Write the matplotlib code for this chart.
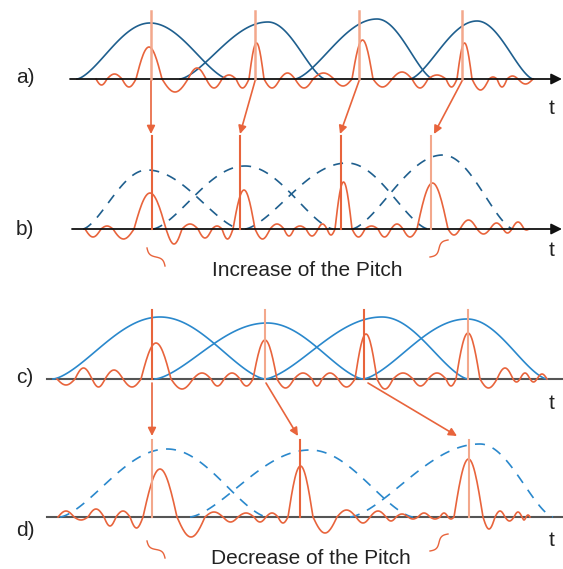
import numpy as np
import matplotlib
matplotlib.use("Agg")
import matplotlib.pyplot as plt

plt.rcParams['font.family'] = ['Liberation Sans', 'DejaVu Sans']

# colours
ORANGE = "#e8643c"
SALMON = "#f3a88c"
DARKBLUE = "#1f5f8e"
LIGHTBLUE = "#2a88cc"

# baselines of the four rows (image pixel units)
base = {"a": 79, "b": 229, "c": 379, "d": 517}

# red signal: zero crossings and lobe amplitudes
zc_a = [96, 107, 122, 136, 162, 188, 206, 222, 236, 249, 264, 280, 295, 313, 334, 352, 373, 392,
        412, 428, 446, 457, 472, 489, 497, 507, 518, 533]
amp_a = [-6, 5, -8, 32, -13, 11, -9, 4, -9, 36, -9, 6, -9, 6, -7, 39, -8, 7, -9, 4, -8, 36, -11,
         2, -8, 3, -5]
zc_b = [85, 101, 113, 134, 166, 182, 198, 212, 222, 233, 255, 270, 284, 294, 306, 318, 327, 335,
        352, 365, 378, 391, 403, 417, 448, 460, 477, 490, 503, 512, 524, 529]
amp_b = [-8, 3, -10, 36, -15, 5, -9, 3, -10, 39, -10, 5, -7, 3, -7, 5, -6, 47, -8, 3, -8, 5, -8,
         46, -6, 9, -5, 6, -4, 7, -1]
zc_c = [57, 75, 92, 105, 123, 141, 171, 193, 211, 224, 240, 253, 277, 294, 312, 322, 338, 355,
        377, 393, 413, 428, 446, 456, 480, 497, 513, 520, 530, 537, 547]
amp_c = [-6, 11, -8, 9, -8, 36, -10, 6, -7, 6, -7, 39, -9, 6, -7, 6, -8, 45, -10, 6, -7, 6, -7,
         46, -9, 11, -3, 6, -3, 5]
zc_d = [58, 74, 88, 104, 116, 130, 143, 177, 205, 223, 238, 254, 266, 278, 288, 313, 337, 356,
        370, 386, 396, 408, 418, 430, 440, 448, 454, 483, 495, 505, 514, 522, 526, 530]
amp_d = [6, -3, 8, -9, 6, -11, 48, -20, 5, -5, 4, -5, 4, -6, 51, -16, 7, -6, 6, -4, 3, -2, 4, -2,
         4, -2, 58, -12, 6, -4, 5, -3, 2]

# analysis / synthesis windows: start, peak position, end, height
win_a = dict(start=[77, 180, 295, 410], peak=[150, 268, 377, 477], end=[228, 325, 433, 533], h=[56, 57, 60, 58])
win_b = dict(start=[83, 153, 245, 352], peak=[147, 245, 347, 443], end=[240, 333, 428, 513], h=[59, 63, 66, 74])
win_c = dict(start=[53, 155, 265, 363], peak=[160, 267, 382, 467], end=[265, 363, 468, 547], h=[62, 56, 62, 60])
win_d = dict(start=[60, 190, 350], peak=[167, 310, 480], end=[267, 413, 553], h=[68, 67, 73])

# pitch marks
marks_a = [151, 255, 359, 462]
marks_b = [152, 240, 341, 431]
marks_c = [152, 265, 364, 468]
marks_d = [152, 300, 469]
col_b = [ORANGE, ORANGE, ORANGE, SALMON]
col_c = [ORANGE, SALMON, ORANGE, SALMON]
col_d = [SALMON, ORANGE, SALMON]
arrow_ab_end = [151, 240, 340, 434]
arrow_cd_start = [152, 266, 368]
arrow_cd_end = [152, 298, 457]


def draw_wave(ax, zc, amp, y0):
    xs, ys = [], []
    for i in range(len(amp)):
        x = np.linspace(zc[i], zc[i + 1], 30)
        xs.append(x)
        ys.append(y0 - amp[i] * np.sin(np.pi * (x - zc[i]) / (zc[i + 1] - zc[i])))
    ax.plot(np.concatenate(xs), np.concatenate(ys), color=ORANGE, lw=1.2, zorder=3)


def draw_windows(ax, w, y0, color, ls):
    for s, p, e, h in zip(w["start"], w["peak"], w["end"], w["h"]):
        xl = np.linspace(s, p, 60)
        yl = ((1 - np.cos(np.pi * (xl - s) / (p - s))) / 2) ** 0.75
        xr = np.linspace(p, e, 60)
        yr = ((1 + np.cos(np.pi * (xr - p) / (e - p))) / 2) ** 0.75
        ax.plot(np.concatenate([xl, xr]), y0 - h * np.concatenate([yl, yr]),
                color=color, lw=1.2, ls=ls, zorder=2)


def arrow(ax, x0, y0, x1, y1, color, ms=12, lw=1.2):
    ax.annotate("", xy=(x1, y1), xytext=(x0, y0),
                arrowprops=dict(arrowstyle="-|>", color=color, lw=lw, mutation_scale=ms,
                                shrinkA=0, shrinkB=0), zorder=4)


def squiggle(ax, x0, y0, x1, y1):
    t = np.linspace(0, 1, 40)
    dx, dy = x1 - x0, y1 - y0
    L = np.hypot(dx, dy)
    nx, ny = -dy / L, dx / L
    off = 2.5 * np.sin(2 * np.pi * t)
    ax.plot(x0 + dx * t + nx * off, y0 + dy * t + ny * off, color=ORANGE, lw=1.0)


fig = plt.figure(figsize=(5.63, 5.69), dpi=100)
ax = fig.add_axes([0, 0, 1, 1])
ax.set_xlim(0, 563)
ax.set_ylim(569, 0)
ax.axis("off")

# time axes
arrow(ax, 70, base["a"], 562, base["a"], "#111111", ms=16, lw=1.3)
arrow(ax, 72, base["b"], 562, base["b"], "#111111", ms=16, lw=1.3)
ax.plot([47, 563], [base["c"], base["c"]], color="#555555", lw=1.5)
ax.plot([47, 563], [base["d"], base["d"]], color="#555555", lw=1.5)

# windows
draw_windows(ax, win_a, base["a"], DARKBLUE, "-")
draw_windows(ax, win_b, base["b"], DARKBLUE, (0, (6, 5)))
draw_windows(ax, win_c, base["c"], LIGHTBLUE, "-")
draw_windows(ax, win_d, base["d"], LIGHTBLUE, (0, (6, 5)))

# signals
draw_wave(ax, zc_a, amp_a, base["a"])
draw_wave(ax, zc_b, amp_b, base["b"])
draw_wave(ax, zc_c, amp_c, base["c"])
draw_wave(ax, zc_d, amp_d, base["d"])

# pitch marks and mapping arrows
for x in marks_a:
    ax.plot([x, x], [11, base["a"]], color=SALMON, lw=1.8, zorder=4)
for x0, x1 in zip(marks_a, arrow_ab_end):
    arrow(ax, x0, base["a"] + 2, x1, 134, ORANGE)
for x, c in zip(marks_b, col_b):
    ax.plot([x, x], [136, base["b"]], color=c, lw=1.5, zorder=4)

for x, c in zip(marks_c, col_c):
    ax.plot([x, x], [310, base["c"]], color=c, lw=1.5, zorder=4)
for x0, x1 in zip(arrow_cd_start, arrow_cd_end):
    arrow(ax, x0, base["c"] + 4, x1, 436, ORANGE)
for x, c in zip(marks_d, col_d):
    ax.plot([x, x], [440, base["d"]], color=c, lw=1.5, zorder=4)

squiggle(ax, 147, 248, 165, 266)
squiggle(ax, 448, 240, 430, 257)
squiggle(ax, 147, 541, 165, 558)
squiggle(ax, 448, 534, 430, 551)

# labels
txt = dict(fontsize=15, color="#222222", ha="center", va="center")
ax.text(25, 77, "a)", **txt)
ax.text(25, 229, "b)", **txt)
ax.text(25, 377, "c)", **txt)
ax.text(25, 531, "d)", **txt)
for y in [108, 250, 403, 540]:
    ax.text(552, y, "t", **txt)
ax.text(307, 270, "Increase of the Pitch", **txt)
ax.text(311, 559, "Decrease of the Pitch", **txt)

fig.savefig("out.png", dpi=100)
